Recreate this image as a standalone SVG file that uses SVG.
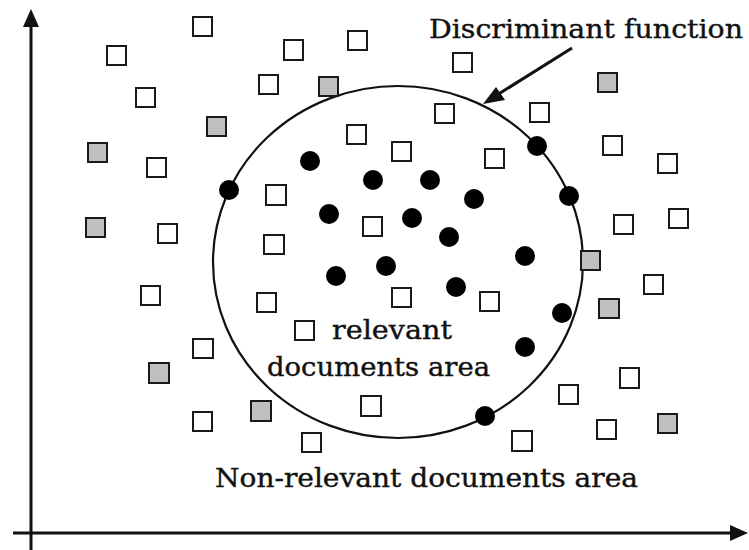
<svg xmlns="http://www.w3.org/2000/svg" width="749" height="550" viewBox="0 0 749 550">
<style>
.sq{fill:#ffffff;stroke:#1a1a1a;stroke-width:2}
.gr{fill:#c0c0c0;stroke:#1a1a1a;stroke-width:2}
.dot{fill:#000000}
.ax{stroke:#111111;stroke-width:3;fill:none}
.bd{stroke:#111111;stroke-width:2.2;fill:none}
.lbl{font-family:"DejaVu Serif","Liberation Serif",serif;font-size:26px;fill:#111111;stroke:#111111;stroke-width:0.4}
</style>
<rect width="749" height="550" fill="#ffffff"/>

<g id="connectors">
<line class="ax" x1="31" y1="550" x2="31" y2="24"/>
<polygon points="31,9 23,27 39,27" fill="#111"/>
<line class="ax" x1="13" y1="533" x2="733" y2="533"/>
<polygon points="748,533 730,525 730,541" fill="#111"/>
<line x1="572" y1="48" x2="497" y2="95" stroke="#111" stroke-width="3"/>
<polygon points="483,104 496,87 505,100" fill="#111"/>
</g>

<g id="boundary">
<ellipse class="bd" cx="398" cy="262" rx="185" ry="176"/>
</g>

<g id="nonrelevant-docs">
<rect class="sq" x="193" y="17" width="19" height="19"/>
<rect class="sq" x="107" y="46" width="19" height="19"/>
<rect class="sq" x="136" y="88" width="19" height="19"/>
<rect class="sq" x="147" y="158" width="19" height="19"/>
<rect class="sq" x="158" y="224" width="19" height="19"/>
<rect class="sq" x="284" y="40" width="19" height="20"/>
<rect class="sq" x="348" y="31" width="19" height="19"/>
<rect class="sq" x="259" y="75" width="19" height="19"/>
<rect class="sq" x="453" y="53" width="19" height="19"/>
<rect class="sq" x="435" y="104" width="19" height="19"/>
<rect class="sq" x="347" y="125" width="19" height="19"/>
<rect class="sq" x="392" y="142" width="19" height="19"/>
<rect class="sq" x="485" y="149" width="19" height="19"/>
<rect class="sq" x="266" y="185" width="20" height="20"/>
<rect class="sq" x="363" y="217" width="19" height="19"/>
<rect class="sq" x="264" y="235" width="20" height="19"/>
<rect class="sq" x="530" y="103" width="19" height="19"/>
<rect class="sq" x="603" y="136" width="19" height="19"/>
<rect class="sq" x="658" y="154" width="19" height="19"/>
<rect class="sq" x="614" y="215" width="19" height="19"/>
<rect class="sq" x="669" y="209" width="19" height="19"/>
<rect class="sq" x="644" y="275" width="19" height="19"/>
<rect class="sq" x="141" y="286" width="19" height="19"/>
<rect class="sq" x="193" y="339" width="20" height="19"/>
<rect class="sq" x="193" y="412" width="19" height="19"/>
<rect class="sq" x="257" y="293" width="19" height="19"/>
<rect class="sq" x="392" y="288" width="19" height="19"/>
<rect class="sq" x="480" y="292" width="19" height="19"/>
<rect class="sq" x="295" y="321" width="19" height="19"/>
<rect class="sq" x="361" y="396" width="20" height="20"/>
<rect class="sq" x="302" y="433" width="19" height="19"/>
<rect class="sq" x="620" y="368" width="19" height="20"/>
<rect class="sq" x="559" y="385" width="19" height="19"/>
<rect class="sq" x="597" y="420" width="19" height="19"/>
<rect class="sq" x="512" y="431" width="20" height="20"/>
</g>

<g id="gray-docs">
<rect class="gr" x="207" y="117" width="19" height="19"/>
<rect class="gr" x="88" y="143" width="19" height="19"/>
<rect class="gr" x="86" y="218" width="19" height="19"/>
<rect class="gr" x="319" y="77" width="19" height="19"/>
<rect class="gr" x="598" y="73" width="19" height="19"/>
<rect class="gr" x="581" y="251" width="19" height="19"/>
<rect class="gr" x="149" y="363" width="20" height="20"/>
<rect class="gr" x="251" y="401" width="20" height="20"/>
<rect class="gr" x="599" y="299" width="20" height="19"/>
<rect class="gr" x="658" y="414" width="19" height="19"/>
</g>

<g id="relevant-docs">
<circle class="dot" cx="229" cy="190" r="10"/>
<circle class="dot" cx="310" cy="161" r="10"/>
<circle class="dot" cx="373" cy="180" r="10"/>
<circle class="dot" cx="430" cy="180" r="10"/>
<circle class="dot" cx="474" cy="199" r="10"/>
<circle class="dot" cx="329" cy="214" r="10"/>
<circle class="dot" cx="412" cy="218" r="10"/>
<circle class="dot" cx="449" cy="237" r="10"/>
<circle class="dot" cx="386" cy="266" r="10"/>
<circle class="dot" cx="336" cy="276" r="10"/>
<circle class="dot" cx="456" cy="287" r="10"/>
<circle class="dot" cx="537" cy="146" r="10"/>
<circle class="dot" cx="569" cy="196" r="10"/>
<circle class="dot" cx="525" cy="256" r="10"/>
<circle class="dot" cx="562" cy="313" r="10"/>
<circle class="dot" cx="525" cy="347" r="10"/>
<circle class="dot" cx="485" cy="416" r="10"/>
</g>

<g id="label-discriminant">
<text class="lbl" x="429" y="38" textLength="314" lengthAdjust="spacingAndGlyphs">Discriminant function</text>
</g>
<g id="label-relevant">
<text class="lbl" x="332" y="339" textLength="120" lengthAdjust="spacingAndGlyphs">relevant</text>
<text class="lbl" x="267" y="376" textLength="223" lengthAdjust="spacingAndGlyphs">documents area</text>
</g>
<g id="label-nonrelevant">
<text class="lbl" x="215" y="487" textLength="423" lengthAdjust="spacingAndGlyphs">Non-relevant documents area</text>
</g>
</svg>
